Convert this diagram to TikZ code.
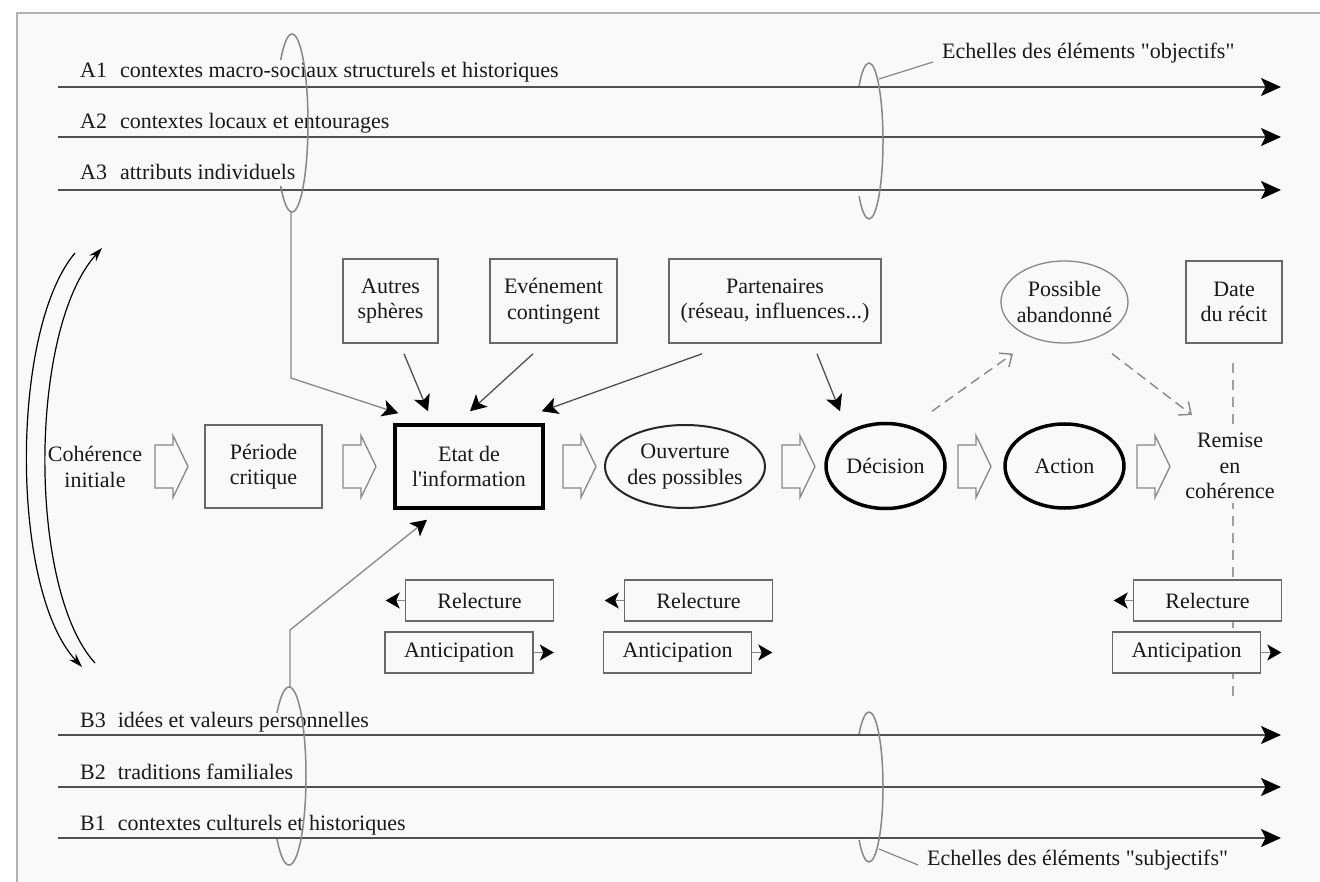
\documentclass[tikz,border=0pt]{standalone}
\usepackage{fontspec}
\setmainfont{Liberation Serif}
\usetikzlibrary{arrows.meta,calc,shapes.geometric}
\definecolor{bg}{RGB}{249,249,249}
\definecolor{ln}{RGB}{80,80,80}
\definecolor{bx}{RGB}{105,105,105}
\definecolor{lg}{RGB}{135,135,135}
\definecolor{tx}{RGB}{25,25,25}
\begin{document}
\begin{tikzpicture}[x=1pt,y=-1pt,
  txt/.style={font=\fontsize{22}{25.5}\selectfont, text=tx, inner sep=0pt},
  box/.style={txt, draw=bx, line width=1.6pt, fill=bg, align=center, minimum height=84pt},
  smallbox/.style={txt, draw=bx, line width=1.6pt, fill=bg, minimum width=148pt, minimum height=41pt},
  oval/.style={txt, ellipse, align=center, inner sep=-12pt},
  scaleline/.style={draw=ln, line width=1.8pt, -{Stealth[length=20pt,width=18pt,inset=4.5pt,color=black]}},
  conn/.style={draw=ln, line width=1.3pt, -{Stealth[length=16pt,width=17pt,inset=4pt,color=black]}},
  gconn/.style={draw=lg, line width=1.3pt, -{Stealth[length=16pt,width=17pt,inset=4pt,color=black]}},
  smallarr/.style={draw=lg, line width=1.3pt, -{Stealth[length=14pt,width=16pt,inset=3.5pt,color=black]}},
  dasharr/.style={draw=lg, line width=1.4pt, dash pattern=on 10pt off 6pt, -{Straight Barb[length=10pt,width=17pt]}},
  dline/.style={draw=lg!80, line width=1.4pt, dash pattern=on 10pt off 7pt},
  brk/.style={draw=lg, line width=1.5pt},
  curv/.style={draw=black, line width=1.2pt, -{Stealth[length=14pt,width=9pt]}},
  leader/.style={draw=lg, line width=1.2pt},
  harrow/.pic={\draw[draw=lg, line width=1.3pt, fill=bg] (0,-21.5) -- (18,-21.5) -- (18,-31) -- (33,0) -- (18,31) -- (18,21.5) -- (0,21.5) -- cycle;}
]
\useasboundingbox (0,0) rectangle (1320,882);
\fill[white] (0,0) rectangle (1320,882);
\fill[bg] (17,13) rectangle (1320,882);
\draw[draw=black!30, line width=1.5pt] (17,882) -- (17,13) -- (1320,13);

% ---------- scale lines ----------
\foreach \nm/\yy in {a1/87, a2/137, a3/190, b3/735, b2/787, b1/838}{
  \coordinate (\nm s) at (58,\yy);
  \coordinate (\nm e) at (1281,\yy);
  \draw[scaleline] (\nm s) -- (\nm e);
}
\node[txt, anchor=base west] (a1t) at (80,78) {A1\hspace{13pt}contextes macro-sociaux structurels et historiques};
\node[txt, anchor=base west] (a2t) at (80,129) {A2\hspace{13pt}contextes locaux et entourages};
\node[txt, anchor=base west] (a3t) at (80,180) {A3\hspace{13pt}attributs individuels};
\node[txt, anchor=base west] (b3t) at (80,727) {B3\hspace{12pt}idées et valeurs personnelles};
\node[txt, anchor=base west] (b2t) at (80,779) {B2\hspace{12pt}traditions familiales};
\node[txt, anchor=base west] (b1t) at (80,830) {B1\hspace{12pt}contextes culturels et historiques};

% ---------- brackets ----------
\begin{scope}[shift={(292,123)}, xscale=16, yscale=89]
  \draw[brk] (-0.707,-0.707) .. controls (-0.52,-0.894) and (-0.265,-1) .. (0,-1)
      .. controls (0.5523,-1) and (1,-0.5523) .. (1,0)
      .. controls (1,0.5523) and (0.5523,1) .. (0,1)
      .. controls (-0.265,1) and (-0.52,0.894) .. (-0.707,0.707);
\end{scope}
\begin{scope}[shift={(869,141)}, xscale=14, yscale=78]
  \draw[brk] (-0.707,-0.707) .. controls (-0.52,-0.894) and (-0.265,-1) .. (0,-1)
      .. controls (0.5523,-1) and (1,-0.5523) .. (1,0)
      .. controls (1,0.5523) and (0.5523,1) .. (0,1)
      .. controls (-0.265,1) and (-0.52,0.894) .. (-0.707,0.707);
\end{scope}
\begin{scope}[shift={(289,776)}, xscale=17, yscale=89]
  \draw[brk] (-0.707,-0.707) .. controls (-0.52,-0.894) and (-0.265,-1) .. (0,-1)
      .. controls (0.5523,-1) and (1,-0.5523) .. (1,0)
      .. controls (1,0.5523) and (0.5523,1) .. (0,1)
      .. controls (-0.265,1) and (-0.52,0.894) .. (-0.707,0.707);
\end{scope}
\begin{scope}[shift={(869,787)}, xscale=14, yscale=75]
  \draw[brk] (-0.707,-0.707) .. controls (-0.52,-0.894) and (-0.265,-1) .. (0,-1)
      .. controls (0.5523,-1) and (1,-0.5523) .. (1,0)
      .. controls (1,0.5523) and (0.5523,1) .. (0,1)
      .. controls (-0.265,1) and (-0.52,0.894) .. (-0.707,0.707);
\end{scope}
\coordinate (aBot) at (291,212);
\coordinate (aKnee) at (291,378);
\coordinate (bTop) at (290,687);
\coordinate (bKnee) at (290,630);
\coordinate (objLead) at (879,79);
\coordinate (subLead) at (879,849);

\node[txt, anchor=west] (obj) at (942,53) {Echelles des éléments \textquotedbl objectifs\textquotedbl};
\node[txt, anchor=west] (subj) at (927,860) {Echelles des éléments \textquotedbl subjectifs\textquotedbl};
\draw[leader] (objLead) -- ($(obj.west)+(-9,9)$);
\draw[leader] (subLead) -- ($(subj.west)+(-9,5)$);

% ---------- top row ----------
\node[box, minimum width=95pt] (autres) at (390.5,301) {Autres\\sphères};
\node[box, minimum width=127pt] (even) at (553.5,301) {Evénement\\contingent};
\node[box, minimum width=212pt] (part) at (775,301) {Partenaires\\(réseau, influences...)};
\node[oval, draw=lg, line width=1.3pt, fill=bg, minimum width=127pt, minimum height=82pt] (poss) at (1064.5,302) {Possible\\abandonné};

% dashed vertical line (behind)
\coordinate (dTop) at (1233,363);
\coordinate (dBot) at (1233,703);
\draw[dline] (dTop) -- (dBot);
\node[box, minimum width=96pt, minimum height=82pt] (date) at (1234,302) {Date\\du récit};

% ---------- middle row ----------
\node[txt, align=center] (coh) at (95,467) {Cohérence\\initiale};
\node[box, minimum width=117pt, minimum height=83pt] (per) at (263.5,466.5) {Période\\critique};
\node[box, draw=black, line width=3.5pt, minimum width=148pt, minimum height=83pt] (etat) at (469,466.5) {Etat de\\l\textquotesingle information};
\node[oval, draw=black!85, line width=2pt, fill=bg, minimum width=160pt, minimum height=83pt] (ouv) at (685,466.5) {Ouverture\\des possibles};
\node[oval, draw=black, line width=3.5pt, fill=bg, minimum width=119pt, minimum height=85pt] (dec) at (885.5,466) {Décision};
\node[oval, draw=black, line width=3.5pt, fill=bg, minimum width=119pt, minimum height=84pt] (act) at (1064.5,466) {Action};
\node[txt, align=center, fill=bg, inner ysep=4pt] (rem) at (1230,466) {Remise\\en\\cohérence};

\foreach \xx in {155,343,563,782,958,1137}{
  \pic at (\xx,466.5) {harrow};
}

% ---------- connectors into Etat / Décision ----------
\draw[gconn] (aBot) -- (aKnee) -- ($(etat.north west)+(5,-10)$);
\draw[conn] ($(autres.south)+(13.5,10)$) -- ($(etat.north)+(-41,-12)$);
\draw[conn] ($(even.south)+(-20.5,10)$) -- ($(etat.north)+(1,-12)$);
\draw[conn] ($(part.south)+(-73,10)$) -- ($(etat.north east)+(-3,-12)$);
\draw[conn] ($(part.south)+(42,10)$) -- ($(dec.north)+(-45.5,-10.5)$);
\draw[gconn] (bTop) -- (bKnee) -- ($(etat.south)+(-42,10)$);
\draw[dasharr] ($(dec.north)+(46.5,-10.5)$) -- ($(poss.south)+(-51.5,10)$);
\draw[dasharr] ($(poss.south)+(47.5,10)$) -- ($(rem.center)+(-38,-51)$);

% ---------- left curved arrows ----------
\coordinate (c1s) at (75,253);
\coordinate (c1e) at (82,667);
\coordinate (c2s) at (95,663);
\coordinate (c2e) at (102,248);
\draw[curv] (c1s) .. controls (10,330) and (10,590) .. (c1e);
\draw[curv] (c2s) .. controls (28,590) and (28,330) .. (c2e);

% ---------- relecture / anticipation ----------
\node[smallbox] (rel1) at (479.5,600.5) {Relecture};
\node[smallbox] (ant1) at (459,652.5) {Anticipation};
\node[smallbox] (rel2) at (698.5,600.5) {Relecture};
\node[smallbox] (ant2) at (677.5,652.5) {Anticipation};
\node[smallbox] (rel3) at (1207.5,600.5) {Relecture};
\node[smallbox] (ant3) at (1186.5,652.5) {Anticipation};
\foreach \r in {rel1,rel2,rel3}{ \draw[smallarr] (\r.west) -- ++(-19,0); }
\foreach \a in {ant1,ant2,ant3}{ \draw[smallarr] (\a.east) -- ++(20,0); }
\end{tikzpicture}
\end{document}
